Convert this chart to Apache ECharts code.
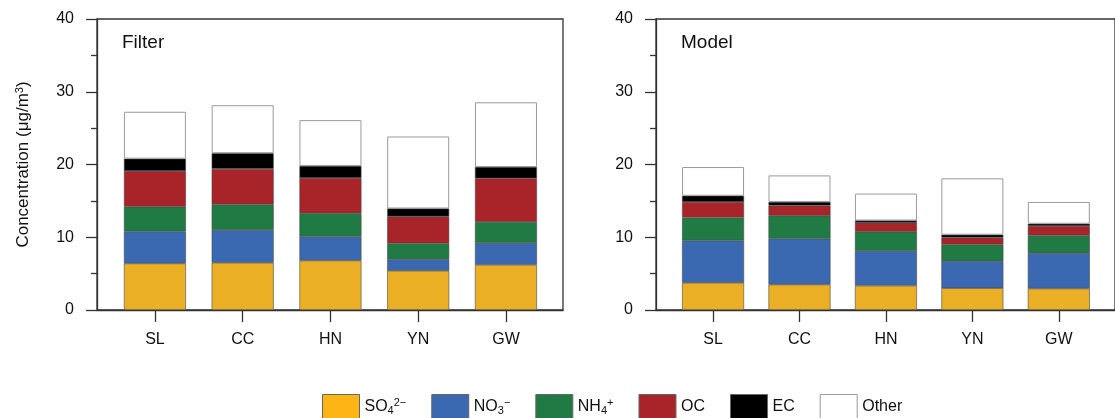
<!DOCTYPE html>
<html>
<head>
<meta charset="utf-8">
<script src="https://cdn.jsdelivr.net/npm/echarts@6/dist/echarts.min.js"></script>
<style>
  html, body { margin: 0; padding: 0; background: #fff; }
  #main { width: 1115px; height: 418px; }
</style>
</head>
<body>
<div id="main"></div>
<script>
// sites along x
const sites = ['SL', 'CC', 'HN', 'YN', 'GW']
const yTicks = [0, 10, 20, 30, 40]

// component names (legend)
const components = ['SO4', 'NO3', 'NH4', 'OC', 'EC', 'Other']

// Filter panel, ug/m3 per component, per site
const filterSO4 = [6.4, 6.5, 6.8, 5.4, 6.2]
const filterNO3 = [4.4, 4.5, 3.3, 1.55, 3.0]
const filterNH4 = [3.4, 3.5, 3.2, 2.2, 2.9]
const filterOC = [4.9, 4.9, 4.85, 3.7, 6.0]
const filterEC = [1.7, 2.15, 1.65, 1.1, 1.55]
const filterOther = [6.45, 6.6, 6.3, 9.9, 8.9]

// Model panel
const modelSO4 = [3.75, 3.5, 3.35, 3.0, 2.95]
const modelNO3 = [5.8, 6.3, 4.75, 3.7, 4.85]
const modelNH4 = [3.15, 3.15, 2.65, 2.3, 2.45]
const modelOC = [2.15, 1.4, 1.25, 0.95, 1.3]
const modelEC = [0.85, 0.5, 0.3, 0.4, 0.3]
const modelOther = [3.95, 3.65, 3.7, 7.75, 3.0]

const colors = {
  SO4: '#EAAF24',
  NO3: '#3B69B1',
  NH4: '#1F7A44',
  OC: '#A82428',
  EC: '#000000',
  Other: '#FFFFFF'
}

const chart = echarts.init(document.getElementById('main'))
const font = 'Liberation Sans, Arial, Helvetica, sans-serif'

const richText = {
  b: { fontSize: 16, fontFamily: font, color: '#111' },
  sub: { fontSize: 11, fontFamily: font, color: '#111', padding: [9, 0, 0, 0] },
  sup: { fontSize: 11, fontFamily: font, color: '#111', padding: [0, 0, 7, 0] }
}
const legendLabels = {
  SO4: '{b|SO}{sub|4}{sup|2−}',
  NO3: '{b|NO}{sub|3}{sup|−}',
  NH4: '{b|NH}{sub|4}{sup|+}',
  OC: '{b|OC}',
  EC: '{b|EC}',
  Other: '{b|Other}'
}

function xAxisFor(idx) {
  return {
    type: 'value',
    gridIndex: idx,
    min: -0.66,
    max: 4.65,
    axisLine: { show: true, onZero: false, lineStyle: { color: '#333', width: 1.3 } },
    axisTick: {
      show: true, length: 12, customValues: [0, 1, 2, 3, 4],
      lineStyle: { color: '#333', width: 1.3 }
    },
    axisLabel: {
      customValues: [0, 1, 2, 3, 4],
      formatter: function (v) { return sites[Math.round(v)] },
      fontSize: 16, fontFamily: font, color: '#111', margin: 22
    },
    splitLine: { show: false }
  }
}

function yAxisFor(idx) {
  const ax = {
    type: 'value',
    gridIndex: idx,
    min: yTicks[0],
    max: yTicks[yTicks.length - 1],
    interval: 10,
    axisLine: { show: true, onZero: false, lineStyle: { color: '#333', width: 1.3 } },
    axisTick: { show: true, length: 11, lineStyle: { color: '#333', width: 1.3 } },
    minorTick: { show: true, splitNumber: 2, length: 6, lineStyle: { color: '#333', width: 1.3 } },
    axisLabel: { fontSize: 16, fontFamily: font, color: '#111', margin: 23 },
    splitLine: { show: false }
  }
  if (idx === 0) {
    ax.name = '{b|Concentration (μg/m}{sup|3}{b|)}'
    ax.nameLocation = 'middle'
    ax.nameGap = 64
    ax.nameTextStyle = {
      rich: {
        b: { fontSize: 17, fontFamily: font, color: '#111' },
        sup: { fontSize: 11, fontFamily: font, color: '#111', padding: [0, 0, 8, 0] }
      }
    }
  }
  return ax
}

const panelData = [
  { SO4: filterSO4, NO3: filterNO3, NH4: filterNH4, OC: filterOC, EC: filterEC, Other: filterOther },
  { SO4: modelSO4, NO3: modelNO3, NH4: modelNH4, OC: modelOC, EC: modelEC, Other: modelOther }
]

const series = []
panelData.forEach(function (panel, p) {
  components.forEach(function (c) {
    series.push({
      name: c,
      type: 'bar',
      xAxisIndex: p,
      yAxisIndex: p,
      stack: 'panel' + p,
      barWidth: 62,
      // value first so it is the stacked dimension, site index second
      encode: { x: 1, y: 0 },
      itemStyle: {
        color: colors[c],
        borderColor: c === 'Other' ? '#9a9a9a' : '#4a4a4a',
        borderWidth: c === 'Other' ? 1 : 0.6
      },
      data: panel[c].map(function (v, i) { return [v, i] })
    })
  })
})

chart.setOption({
  animation: false,
  textStyle: { fontFamily: font },
  title: [
    { text: 'Filter', left: 122, top: 33, padding: 0, textStyle: { fontSize: 19, fontWeight: 'normal', color: '#111', fontFamily: font } },
    { text: 'Model', left: 681, top: 33, padding: 0, textStyle: { fontSize: 19, fontWeight: 'normal', color: '#111', fontFamily: font } }
  ],
  grid: [
    { left: 97, right: 552, top: 19, bottom: 108, show: true, borderColor: '#333', borderWidth: 1.3 },
    { left: 656, right: -8, top: 19, bottom: 108, show: true, borderColor: '#333', borderWidth: 1.3 }
  ],
  xAxis: [xAxisFor(0), xAxisFor(1)],
  yAxis: [yAxisFor(0), yAxisFor(1)],
  legend: {
    left: 322,
    top: 394,
    padding: 0,
    itemWidth: 37,
    itemHeight: 24,
    itemGap: 25,
    icon: 'rect',
    data: components.map(function (c) {
      return {
        name: c,
        itemStyle: {
          color: c === 'SO4' ? '#FDB515' : colors[c],
          borderColor: c === 'Other' ? '#999' : '#666',
          borderWidth: 1
        }
      }
    }),
    formatter: function (name) { return legendLabels[name] },
    textStyle: { rich: richText }
  },
  series: series
})
</script>
</body>
</html>
